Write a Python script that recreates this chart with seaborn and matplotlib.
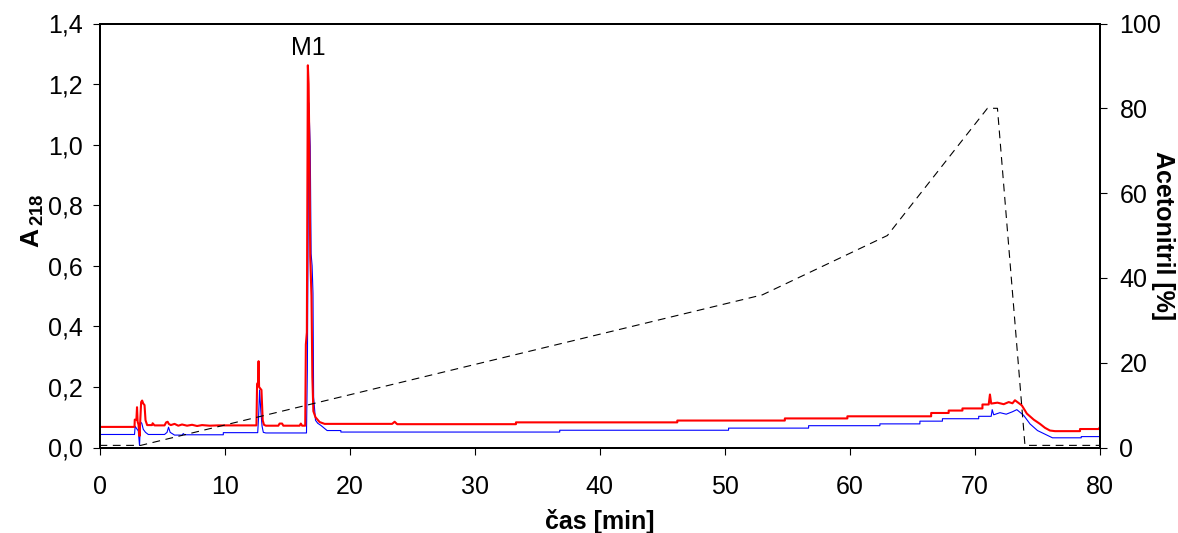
import matplotlib
matplotlib.use("Agg")
import matplotlib.pyplot as plt
from matplotlib.ticker import FuncFormatter
import seaborn as sns

# ----------------------------------------------------------
# Data (10 values per row)
# ----------------------------------------------------------

# red trace (A218), time in min
red_time = [0, 2.8, 2.82, 2.95, 3.0, 3.05, 3.12, 3.2, 3.33, 3.41,
            3.5, 3.6, 3.68, 3.81, 4.2, 4.25, 4.4, 5.2, 5.33, 5.45,
            5.54, 5.7, 6.0, 6.3, 6.6, 7.0, 7.4, 7.8, 8.2, 8.8,
            9.5, 12.55, 12.6, 12.68, 12.72, 12.76, 12.85, 12.95, 13.05, 13.15,
            13.3, 14.3, 14.4, 14.6, 14.7, 16.0, 16.1, 16.2, 16.45, 16.5,
            16.58, 16.66, 16.72, 16.78, 16.85, 16.95, 17.02, 17.1, 17.27, 17.6,
            18.0, 23.4, 23.6, 23.8, 33.3, 33.3, 46.2, 46.2, 54.8, 54.8,
            59.8, 59.8, 66.5, 66.5, 67.9, 67.9, 69.0, 69.0, 70.6, 70.6,
            71.1, 71.2, 71.3, 71.8, 72.3, 72.7, 73.0, 73.2, 73.75, 74.15,
            74.7, 75.2, 75.6, 76.0, 76.4, 78.4, 78.4, 79.9, 80.0]
red_abs = [0.068, 0.068, 0.092, 0.092, 0.133, 0.085, 0.075, 0.038, 0.15, 0.155,
           0.145, 0.14, 0.09, 0.074, 0.074, 0.08, 0.073, 0.073, 0.083, 0.085,
           0.078, 0.074, 0.078, 0.072, 0.076, 0.072, 0.075, 0.071, 0.074, 0.072,
           0.073, 0.073, 0.21, 0.215, 0.285, 0.2, 0.195, 0.19, 0.09, 0.075,
           0.072, 0.072, 0.079, 0.079, 0.072, 0.072, 0.079, 0.072, 0.072, 0.34,
           0.38, 1.262, 1.2, 0.995, 0.63, 0.5, 0.233, 0.12, 0.1, 0.084,
           0.078, 0.078, 0.085, 0.077, 0.077, 0.083, 0.083, 0.089, 0.089, 0.096,
           0.096, 0.103, 0.103, 0.114, 0.114, 0.122, 0.122, 0.129, 0.129, 0.142,
           0.142, 0.175, 0.145, 0.148, 0.143, 0.15, 0.146, 0.156, 0.139, 0.112,
           0.092, 0.078, 0.065, 0.056, 0.054, 0.054, 0.061, 0.061, 0.068]

# blue trace
blue_time = [0, 2.8, 2.85, 3.01, 3.1, 3.2, 3.28, 3.38, 3.5, 3.68,
             3.9, 5.2, 5.4, 5.52, 5.65, 6.0, 6.6, 6.7, 6.8, 9.9,
             9.9, 12.65, 12.72, 12.8, 12.9, 13.0, 13.1, 13.3, 16.55, 16.62,
             16.68, 16.74, 16.85, 16.92, 17.0, 17.07, 17.12, 17.27, 17.45, 17.7,
             18.2, 19.3, 19.3, 36.8, 36.8, 50.3, 50.3, 56.7, 56.7, 62.4,
             62.4, 65.6, 65.6, 67.4, 67.4, 70.3, 70.3, 71.3, 71.38, 71.5,
             72.0, 72.5, 73.0, 73.35, 73.9, 74.4, 75.0, 75.8, 76.2, 78.5,
             78.5, 80.0]
blue_abs = [0.043, 0.043, 0.07, 0.06, 0.055, 0.007, 0.084, 0.08, 0.06, 0.05,
            0.043, 0.043, 0.05, 0.067, 0.05, 0.041, 0.041, 0.046, 0.042, 0.042,
            0.049, 0.049, 0.1, 0.19, 0.12, 0.07, 0.05, 0.048, 0.048, 0.255,
            0.7, 1.138, 0.994, 0.64, 0.6, 0.51, 0.167, 0.09, 0.08, 0.073,
            0.056, 0.056, 0.051, 0.051, 0.057, 0.057, 0.064, 0.064, 0.072, 0.072,
            0.078, 0.078, 0.087, 0.087, 0.095, 0.095, 0.103, 0.103, 0.125, 0.108,
            0.115, 0.11, 0.118, 0.125, 0.106, 0.078, 0.056, 0.04, 0.032, 0.032,
            0.036, 0.036]

# acetonitrile gradient (%)
grad_time = [0, 3.3, 53, 63, 71, 71.8, 74, 80]
grad_pct = [0.5, 0.5, 36, 50, 80, 80, 0.5, 0.5]

x_ticks = [0, 10, 20, 30, 40, 50, 60, 70, 80]
y_ticks = [0.0, 0.2, 0.4, 0.6, 0.8, 1.0, 1.2, 1.4]
pct_ticks = [0, 20, 40, 60, 80, 100]

peak_label = "M1"
peak_pos = (16.7, 1.295)

# ----------------------------------------------------------
# Figure
# ----------------------------------------------------------

sns.set_style("white")
plt.rcParams["font.family"] = ["Liberation Sans", "DejaVu Sans"]
plt.rcParams["mathtext.fontset"] = "custom"
plt.rcParams["mathtext.rm"] = "Liberation Sans"
plt.rcParams["mathtext.bf"] = "Liberation Sans:bold"
plt.rcParams["text.color"] = "black"
plt.rcParams["axes.labelcolor"] = "black"

W, H = 1178, 533
fig = plt.figure(figsize=(W / 100, H / 100), dpi=100)
ax = fig.add_axes([99.5 / W, 1 - 447.5 / H, 1000.5 / W, 424 / H])

sns.lineplot(x=blue_time, y=blue_abs, ax=ax, color="#0000ff", lw=0.8,
             sort=False, estimator=None)
sns.lineplot(x=red_time, y=red_abs, ax=ax, color="#ff0000", lw=1.5,
             sort=False, estimator=None)

ax.set_xlim(0, 80)
ax.set_ylim(0, 1.4)
ax.set_xticks(x_ticks)
ax.set_yticks(y_ticks)
ax.yaxis.set_major_formatter(FuncFormatter(lambda v, p: f"{v:.1f}".replace(".", ",")))
ax.tick_params(direction="out", length=5, width=0.8, labelsize=18, colors="black",
               bottom=True, left=True)
ax.tick_params(axis="y", pad=7)
ax.tick_params(axis="x", pad=15)
ax.set_xlabel("čas [min]", fontsize=18, fontweight="bold", labelpad=7, color="black")
ax.set_ylabel(r"$\mathbf{A}_{\,\mathbf{218}}$", fontsize=19, color="black")
ax.yaxis.set_label_coords(-0.067, 0.535)
ax.yaxis.label.set_va("center")
ax.text(peak_pos[0], peak_pos[1], peak_label, fontsize=18, ha="center",
        va="baseline", color="black")

ax2 = ax.twinx()
sns.lineplot(x=grad_time, y=grad_pct, ax=ax2, color="black", lw=0.8,
             sort=False, estimator=None)
ax2.lines[0].set_dashes((7, 5))
ax2.set_ylim(0, 100)
ax2.set_yticks(pct_ticks)
ax2.tick_params(direction="out", length=5, width=0.8, labelsize=18, colors="black",
                right=True, pad=9)
ax2.set_ylabel("Acetonitril [%]", fontsize=18, fontweight="bold", rotation=270,
               color="black")
ax2.yaxis.set_label_coords(1.063, 0.5)
ax2.yaxis.label.set_va("center")
ax2.yaxis.label.set_ha("center")

for a in (ax, ax2):
    for s in a.spines.values():
        s.set_color("black")
        s.set_linewidth(1.4)

plt.savefig("out.png", dpi=100)
